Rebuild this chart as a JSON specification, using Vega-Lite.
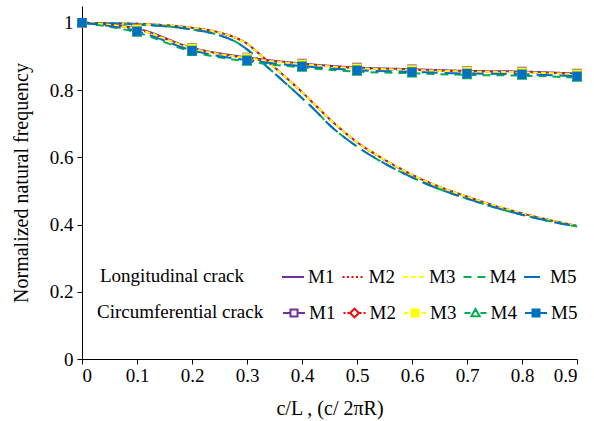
{
  "$schema": "https://vega.github.io/schema/vega-lite/v6.json",
  "width": 495,
  "height": 353,
  "autosize": "none",
  "padding": {"left": 82, "top": 6, "right": 17, "bottom": 62},
  "datasets": {
    "lon": [
      {"x": 0, "y": 1.0, "s": "M1"}, {"x": 0.05, "y": 0.999, "s": "M1"}, {"x": 0.1, "y": 0.997, "s": "M1"}, {"x": 0.15, "y": 0.993, "s": "M1"}, {"x": 0.2, "y": 0.985, "s": "M1"}, {"x": 0.25, "y": 0.971, "s": "M1"}, {"x": 0.28, "y": 0.955, "s": "M1"}, {"x": 0.3, "y": 0.938, "s": "M1"}, {"x": 0.32, "y": 0.911, "s": "M1"}, {"x": 0.34, "y": 0.882, "s": "M1"}, {"x": 0.36, "y": 0.853, "s": "M1"}, {"x": 0.38, "y": 0.824, "s": "M1"}, {"x": 0.4, "y": 0.794, "s": "M1"}, {"x": 0.42, "y": 0.762, "s": "M1"}, {"x": 0.45, "y": 0.714, "s": "M1"}, {"x": 0.5, "y": 0.645, "s": "M1"}, {"x": 0.55, "y": 0.593, "s": "M1"}, {"x": 0.6, "y": 0.548, "s": "M1"}, {"x": 0.65, "y": 0.512, "s": "M1"}, {"x": 0.7, "y": 0.483, "s": "M1"}, {"x": 0.75, "y": 0.456, "s": "M1"}, {"x": 0.8, "y": 0.433, "s": "M1"}, {"x": 0.85, "y": 0.413, "s": "M1"}, {"x": 0.9, "y": 0.396, "s": "M1"},
      {"x": 0, "y": 1.0, "s": "M2"}, {"x": 0.05, "y": 0.999, "s": "M2"}, {"x": 0.1, "y": 0.997, "s": "M2"}, {"x": 0.15, "y": 0.993, "s": "M2"}, {"x": 0.2, "y": 0.985, "s": "M2"}, {"x": 0.25, "y": 0.971, "s": "M2"}, {"x": 0.28, "y": 0.955, "s": "M2"}, {"x": 0.3, "y": 0.938, "s": "M2"}, {"x": 0.32, "y": 0.911, "s": "M2"}, {"x": 0.34, "y": 0.882, "s": "M2"}, {"x": 0.36, "y": 0.853, "s": "M2"}, {"x": 0.38, "y": 0.824, "s": "M2"}, {"x": 0.4, "y": 0.794, "s": "M2"}, {"x": 0.42, "y": 0.762, "s": "M2"}, {"x": 0.45, "y": 0.714, "s": "M2"}, {"x": 0.5, "y": 0.645, "s": "M2"}, {"x": 0.55, "y": 0.593, "s": "M2"}, {"x": 0.6, "y": 0.548, "s": "M2"}, {"x": 0.65, "y": 0.512, "s": "M2"}, {"x": 0.7, "y": 0.483, "s": "M2"}, {"x": 0.75, "y": 0.456, "s": "M2"}, {"x": 0.8, "y": 0.433, "s": "M2"}, {"x": 0.85, "y": 0.413, "s": "M2"}, {"x": 0.9, "y": 0.396, "s": "M2"},
      {"x": 0, "y": 1.0, "s": "M3"}, {"x": 0.05, "y": 0.999, "s": "M3"}, {"x": 0.1, "y": 0.997, "s": "M3"}, {"x": 0.15, "y": 0.993, "s": "M3"}, {"x": 0.2, "y": 0.985, "s": "M3"}, {"x": 0.25, "y": 0.971, "s": "M3"}, {"x": 0.28, "y": 0.955, "s": "M3"}, {"x": 0.3, "y": 0.938, "s": "M3"}, {"x": 0.32, "y": 0.911, "s": "M3"}, {"x": 0.34, "y": 0.882, "s": "M3"}, {"x": 0.36, "y": 0.853, "s": "M3"}, {"x": 0.38, "y": 0.824, "s": "M3"}, {"x": 0.4, "y": 0.794, "s": "M3"}, {"x": 0.42, "y": 0.762, "s": "M3"}, {"x": 0.45, "y": 0.714, "s": "M3"}, {"x": 0.5, "y": 0.645, "s": "M3"}, {"x": 0.55, "y": 0.593, "s": "M3"}, {"x": 0.6, "y": 0.548, "s": "M3"}, {"x": 0.65, "y": 0.512, "s": "M3"}, {"x": 0.7, "y": 0.483, "s": "M3"}, {"x": 0.75, "y": 0.456, "s": "M3"}, {"x": 0.8, "y": 0.433, "s": "M3"}, {"x": 0.85, "y": 0.413, "s": "M3"}, {"x": 0.9, "y": 0.396, "s": "M3"},
      {"x": 0, "y": 1.0, "s": "M4"}, {"x": 0.05, "y": 0.998, "s": "M4"}, {"x": 0.1, "y": 0.995, "s": "M4"}, {"x": 0.15, "y": 0.99, "s": "M4"}, {"x": 0.2, "y": 0.98, "s": "M4"}, {"x": 0.25, "y": 0.963, "s": "M4"}, {"x": 0.28, "y": 0.943, "s": "M4"}, {"x": 0.3, "y": 0.921, "s": "M4"}, {"x": 0.32, "y": 0.893, "s": "M4"}, {"x": 0.34, "y": 0.864, "s": "M4"}, {"x": 0.36, "y": 0.835, "s": "M4"}, {"x": 0.38, "y": 0.806, "s": "M4"}, {"x": 0.4, "y": 0.776, "s": "M4"}, {"x": 0.42, "y": 0.746, "s": "M4"}, {"x": 0.45, "y": 0.696, "s": "M4"}, {"x": 0.5, "y": 0.632, "s": "M4"}, {"x": 0.55, "y": 0.582, "s": "M4"}, {"x": 0.6, "y": 0.54, "s": "M4"}, {"x": 0.65, "y": 0.505, "s": "M4"}, {"x": 0.7, "y": 0.477, "s": "M4"}, {"x": 0.75, "y": 0.451, "s": "M4"}, {"x": 0.8, "y": 0.429, "s": "M4"}, {"x": 0.85, "y": 0.41, "s": "M4"}, {"x": 0.9, "y": 0.394, "s": "M4"},
      {"x": 0, "y": 1.0, "s": "M5"}, {"x": 0.05, "y": 0.998, "s": "M5"}, {"x": 0.1, "y": 0.995, "s": "M5"}, {"x": 0.15, "y": 0.99, "s": "M5"}, {"x": 0.2, "y": 0.98, "s": "M5"}, {"x": 0.25, "y": 0.963, "s": "M5"}, {"x": 0.28, "y": 0.943, "s": "M5"}, {"x": 0.3, "y": 0.921, "s": "M5"}, {"x": 0.32, "y": 0.893, "s": "M5"}, {"x": 0.34, "y": 0.864, "s": "M5"}, {"x": 0.36, "y": 0.835, "s": "M5"}, {"x": 0.38, "y": 0.806, "s": "M5"}, {"x": 0.4, "y": 0.776, "s": "M5"}, {"x": 0.42, "y": 0.746, "s": "M5"}, {"x": 0.45, "y": 0.696, "s": "M5"}, {"x": 0.5, "y": 0.632, "s": "M5"}, {"x": 0.55, "y": 0.582, "s": "M5"}, {"x": 0.6, "y": 0.54, "s": "M5"}, {"x": 0.65, "y": 0.505, "s": "M5"}, {"x": 0.7, "y": 0.477, "s": "M5"}, {"x": 0.75, "y": 0.451, "s": "M5"}, {"x": 0.8, "y": 0.429, "s": "M5"}, {"x": 0.85, "y": 0.41, "s": "M5"}, {"x": 0.9, "y": 0.394, "s": "M5"}
    ],
    "cir": [
      {"x": 0, "y": 1.0, "s": "M1"}, {"x": 0.1, "y": 0.983, "s": "M1"}, {"x": 0.2, "y": 0.926, "s": "M1"}, {"x": 0.3, "y": 0.897, "s": "M1"}, {"x": 0.4, "y": 0.879, "s": "M1"}, {"x": 0.5, "y": 0.867, "s": "M1"}, {"x": 0.6, "y": 0.862, "s": "M1"}, {"x": 0.7, "y": 0.857, "s": "M1"}, {"x": 0.8, "y": 0.855, "s": "M1"}, {"x": 0.9, "y": 0.849, "s": "M1"},
      {"x": 0, "y": 1.0, "s": "M2"}, {"x": 0.1, "y": 0.981, "s": "M2"}, {"x": 0.2, "y": 0.924, "s": "M2"}, {"x": 0.3, "y": 0.895, "s": "M2"}, {"x": 0.4, "y": 0.877, "s": "M2"}, {"x": 0.5, "y": 0.865, "s": "M2"}, {"x": 0.6, "y": 0.86, "s": "M2"}, {"x": 0.7, "y": 0.855, "s": "M2"}, {"x": 0.8, "y": 0.853, "s": "M2"}, {"x": 0.9, "y": 0.847, "s": "M2"},
      {"x": 0, "y": 1.0, "s": "M3"}, {"x": 0.1, "y": 0.981, "s": "M3"}, {"x": 0.2, "y": 0.924, "s": "M3"}, {"x": 0.3, "y": 0.895, "s": "M3"}, {"x": 0.4, "y": 0.877, "s": "M3"}, {"x": 0.5, "y": 0.865, "s": "M3"}, {"x": 0.6, "y": 0.86, "s": "M3"}, {"x": 0.7, "y": 0.855, "s": "M3"}, {"x": 0.8, "y": 0.853, "s": "M3"}, {"x": 0.9, "y": 0.847, "s": "M3"},
      {"x": 0, "y": 1.0, "s": "M4"}, {"x": 0.1, "y": 0.971, "s": "M4"}, {"x": 0.2, "y": 0.914, "s": "M4"}, {"x": 0.3, "y": 0.885, "s": "M4"}, {"x": 0.4, "y": 0.867, "s": "M4"}, {"x": 0.5, "y": 0.855, "s": "M4"}, {"x": 0.6, "y": 0.85, "s": "M4"}, {"x": 0.7, "y": 0.845, "s": "M4"}, {"x": 0.8, "y": 0.843, "s": "M4"}, {"x": 0.9, "y": 0.837, "s": "M4"},
      {"x": 0, "y": 1.0, "s": "M5"}, {"x": 0.1, "y": 0.975, "s": "M5"}, {"x": 0.2, "y": 0.918, "s": "M5"}, {"x": 0.3, "y": 0.889, "s": "M5"}, {"x": 0.4, "y": 0.871, "s": "M5"}, {"x": 0.5, "y": 0.859, "s": "M5"}, {"x": 0.6, "y": 0.854, "s": "M5"}, {"x": 0.7, "y": 0.849, "s": "M5"}, {"x": 0.8, "y": 0.847, "s": "M5"}, {"x": 0.9, "y": 0.841, "s": "M5"}
    ]
  },
  "encoding": {
    "x": {"field": "x", "type": "quantitative", "title": "c/L , (c/ 2πR)",
      "scale": {"domain": [0, 0.9], "nice": false},
      "axis": {"values": [0, 0.1, 0.2, 0.3, 0.4, 0.5, 0.6, 0.7, 0.8, 0.9], "format": ".1~f", "labelPadding": 2, "titlePadding": 13}},
    "y": {"field": "y", "type": "quantitative", "title": "Normalized natural frequency",
      "scale": {"domain": [0, 1.05], "nice": false},
      "axis": {"values": [0, 0.2, 0.4, 0.6, 0.8, 1], "format": ".1~f", "labelPadding": 4, "titlePadding": 18}}
  },
  "layer": [
    {
      "data": {"name": "lon"},
      "mark": {"type": "line", "strokeWidth": 2, "interpolate": "monotone"},
      "encoding": {
        "color": {"field": "s", "type": "nominal",
          "scale": {"domain": ["M1", "M2", "M3", "M4", "M5"], "range": ["#7030A0", "#FF0000", "#FFFF00", "#00B050", "#0070C0"]},
          "legend": {"title": "Longitudinal crack", "orient": "none", "legendX": 18, "legendY": 259, "direction": "horizontal", "columns": 5, "titleOrient": "left", "titlePadding": 36}},
        "strokeDash": {"field": "s", "type": "nominal",
          "scale": {"domain": ["M1", "M2", "M3", "M4", "M5"], "range": [[1, 0], [2, 2.5], [5, 3], [8, 6], [16, 7]]},
          "legend": {"title": "Longitudinal crack", "orient": "none", "legendX": 18, "legendY": 259, "direction": "horizontal", "columns": 5, "titleOrient": "left", "titlePadding": 36}}
      }
    },
    {
      "data": {"name": "cir"},
      "mark": {"type": "line", "strokeWidth": 2, "interpolate": "monotone"},
      "encoding": {
        "color": {"field": "s", "type": "nominal",
          "scale": {"domain": ["M1", "M2", "M3", "M4", "M5"], "range": ["#7030A0", "#FF0000", "#FFFF00", "#00B050", "#0070C0"]},
          "legend": null},
        "strokeDash": {"field": "s", "type": "nominal",
          "scale": {"domain": ["M1", "M2", "M3", "M4", "M5"], "range": [[1, 0], [2, 2.5], [5, 3], [8, 6], [16, 7]]},
          "legend": null}
      }
    },
    {
      "data": {"name": "cir"},
      "mark": {"type": "point", "filled": true, "opacity": 1, "size": 64, "strokeWidth": 1.5},
      "encoding": {
        "fill": {"field": "s", "type": "nominal",
          "scale": {"domain": ["M1", "M2", "M3", "M4", "M5"], "range": ["#FFFFFF", "#FFFFFF", "#FFFF00", "#FFFFFF", "#0070C0"]},
          "legend": null},
        "stroke": {"field": "s", "type": "nominal",
          "scale": {"domain": ["M1", "M2", "M3", "M4", "M5"], "range": ["#7030A0", "#FF0000", "#FFFF00", "#00B050", "#0070C0"]},
          "legend": null},
        "shape": {"field": "s", "type": "nominal",
          "scale": {"domain": ["M1", "M2", "M3", "M4", "M5"], "range": ["square", "diamond", "square", "triangle-up", "square"]},
          "legend": null}
      }
    },
    {
      "data": {"name": "cir"},
      "mark": {"type": "point", "filled": true, "opacity": 0, "strokeWidth": 2},
      "encoding": {
        "fill": {"field": "s", "type": "nominal",
          "scale": {"domain": ["M1", "M2", "M3", "M4", "M5"], "range": ["#FFFFFF", "#FFFFFF", "#FFFF00", "#FFFFFF", "#0070C0"]},
          "legend": {"title": "Circumferential crack", "orient": "none", "legendX": 15, "legendY": 295, "direction": "horizontal", "columns": 5, "titleOrient": "left", "titlePadding": 18, "symbolOpacity": 1}},
        "stroke": {"field": "s", "type": "nominal",
          "scale": {"domain": ["M1", "M2", "M3", "M4", "M5"], "range": ["#7030A0", "#FF0000", "#FFFF00", "#00B050", "#0070C0"]},
          "legend": {"title": "Circumferential crack", "orient": "none", "legendX": 15, "legendY": 295, "direction": "horizontal", "columns": 5, "titleOrient": "left", "titlePadding": 18, "symbolOpacity": 1}},
        "shape": {"field": "s", "type": "nominal",
          "scale": {"domain": ["M1", "M2", "M3", "M4", "M5"], "range": [
            "M-1,0H-0.32M0.32,0H1M-0.32,-0.32H0.32V0.32H-0.32Z",
            "M-1,0H-0.82M-0.64,0H-0.46M0.46,0H0.64M0.82,0H1M0,-0.4L0.4,0L0,0.4L-0.4,0Z",
            "M-1,0H-0.6M0.6,0H1M-0.32,-0.32H0.32V0.32H-0.32Z",
            "M-1,0H-0.45M0.45,0H1M0,-0.36L0.38,0.3L-0.38,0.3Z",
            "M-1,0H-0.32M0.32,0H1M-0.32,-0.32H0.32V0.32H-0.32Z"]},
          "legend": {"title": "Circumferential crack", "orient": "none", "legendX": 15, "legendY": 295, "direction": "horizontal", "columns": 5, "titleOrient": "left", "titlePadding": 18, "symbolOpacity": 1}}
      }
    }
  ],
  "resolve": {"scale": {"color": "independent", "strokeDash": "independent", "shape": "independent", "fill": "independent", "stroke": "independent"}},
  "config": {
    "view": {"stroke": null},
    "font": "Liberation Serif",
    "axis": {"grid": false, "domainColor": "#000000", "domainWidth": 1, "tickColor": "#000000", "tickSize": 5, "labelColor": "#000000", "titleColor": "#000000", "labelFont": "Liberation Serif", "titleFont": "Liberation Serif", "labelFontSize": 19, "titleFontSize": 20, "titleFontWeight": "normal"},
    "legend": {"labelFont": "Liberation Serif", "labelFontSize": 19, "labelColor": "#000000", "titleFont": "Liberation Serif", "titleFontSize": 19, "titleFontWeight": "normal", "titleColor": "#000000", "symbolSize": 484, "symbolStrokeWidth": 2, "columnPadding": 3.5, "labelOffset": 3, "padding": 0, "offset": 0}
  }
}
